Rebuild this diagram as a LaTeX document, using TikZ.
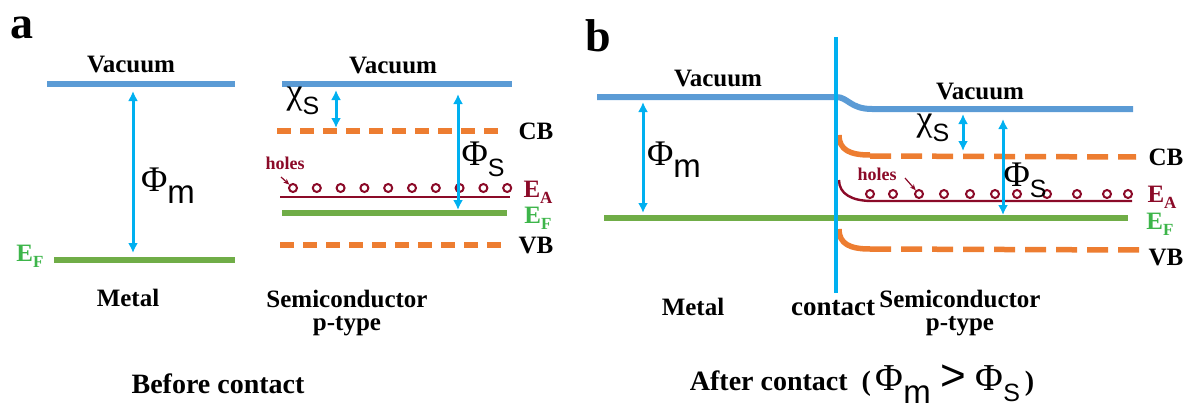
\documentclass[tikz,border=0pt]{standalone}
\usepackage{fontspec}
\setmainfont{Liberation Serif}
\newfontfamily\sansf{Liberation Sans}
\usetikzlibrary{arrows.meta}
\definecolor{vacblue}{HTML}{5B9BD5}
\definecolor{arrcyan}{HTML}{00B0F0}
\definecolor{bandorange}{HTML}{ED7D31}
\definecolor{fermigreen}{HTML}{70AD47}
\definecolor{efgreen}{HTML}{3DB54A}
\definecolor{holered}{HTML}{8B0A28}
\tikzset{
  vac/.style={vacblue, line width=6pt},
  ferm/.style={fermigreen, line width=6pt},
  band/.style={bandorange, line width=5.5pt},
  banddash/.style={bandorange, line width=5.5pt, dash pattern=on 14pt off 9pt},
  banddashb/.style={bandorange, line width=5.5pt, dash pattern=on 21pt off 10pt},
  accept/.style={holered, line width=2.4pt},
  gap/.style={arrcyan, line width=3pt, {Latex[length=10pt,width=10pt]}-{Latex[length=10pt,width=10pt]}},
  hole/.style={circle, draw=holered, line width=2pt, minimum size=8pt, inner sep=0pt},
  lbl/.style={font=\bfseries\fontsize{25}{27}\selectfont, inner sep=0pt},
  vaclbl/.style={font=\bfseries\fontsize{25}{27}\selectfont, inner sep=0pt},
  panel/.style={font=\bfseries\fontsize{46}{48}\selectfont, inner sep=0pt},
  biglbl/.style={font=\fontsize{36}{38}\selectfont, inner sep=0pt},
  holelbl/.style={font=\bfseries\fontsize{18}{20}\selectfont, text=holered, inner sep=0pt},
  ptr/.style={holered, line width=1.2pt, -{Stealth[length=6pt,width=5pt]}},
}
\newcommand{\Phisub}[1]{\textrm{Φ}\raisebox{-0.33em}{\sansf\fontsize{33}{35}\selectfont #1}}
\newcommand{\PhiS}{\textrm{Φ}\raisebox{-0.3em}{\sansf\fontsize{25}{27}\selectfont S}}
\newcommand{\ChiS}{\textrm{χ}\raisebox{-0.3em}{\sansf\fontsize{25}{27}\selectfont S}}
\newcommand{\Esub}[1]{E\raisebox{-0.25em}{\fontsize{17}{19}\selectfont #1}}
\begin{document}
\begin{tikzpicture}[x=1pt,y=-1pt]
\useasboundingbox (0,0) rectangle (1194,412);

% ===== panel a =====
\node[panel] (pa) at (22,28) {a};

% metal
\coordinate (mvacL) at (47,84);  \coordinate (mvacR) at (235,84);
\coordinate (mefL) at (54,260);  \coordinate (mefR) at (235,260);
\draw[vac] (mvacL) -- (mvacR);
\draw[ferm] (mefL) -- (mefR);
\node[vaclbl] (mvaclbl) at (131,65) {Vacuum};
\coordinate (phimT) at (133,91); \coordinate (phimB) at (133,253);
\draw[gap] (phimT) -- (phimB);
\node[biglbl] (phimlbl) at (168,186) {\Phisub{m}};
\node[lbl, text=efgreen] (mef) at (30,256) {\Esub{F}};
\node[lbl] (metala) at (128,298) {Metal};

% semiconductor
\coordinate (svacL) at (282,84);  \coordinate (svacR) at (512,84);
\draw[vac] (svacL) -- (svacR);
\node[vaclbl] (svaclbl) at (393,66) {Vacuum};
\draw[banddash] (277,131) -- (503,131);
\node[lbl] (cba) at (536,131) {CB};
\draw[accept] (280,197) -- (510,197);
\foreach \i in {0,...,9} \node[hole] (ha\i) at ({293+\i*23.8},188) {};
\node[holelbl] (holesa) at (285,163) {holes};
\coordinate (pa1) at (281,177);
\draw[ptr] (pa1) -- (ha0);
\node[lbl, text=holered] (eaa) at (538,192) {\Esub{A}};
\draw[ferm] (282,213) -- (507,213);
\node[lbl, text=efgreen] (efa) at (538,218) {\Esub{F}};
\draw[banddash] (280,245) -- (503,245);
\node[lbl] (vba) at (536,246) {VB};
\coordinate (chiT) at (336,90); \coordinate (chiB) at (336,128);
\draw[gap] (chiT) -- (chiB);
\node[biglbl] (chia) at (303,101) {\ChiS};
\coordinate (phisT) at (458,94); \coordinate (phisB) at (458,210);
\draw[gap] (phisT) -- (phisB);
\node[biglbl] (phisa) at (483,159) {\PhiS};
\node[lbl, align=center] (semia) at (347,313) {Semiconductor\\[-4pt]p-type};
\node[lbl, font=\bfseries\fontsize{28}{30}\selectfont] (before) at (218,384) {Before contact};

% ===== panel b =====
\node[panel] (pb) at (598,36) {b};
\coordinate (ctT) at (836,37); \coordinate (ctB) at (836,293);

% vacuum
\draw[vac] (597,97) -- (836,97) .. controls (848,97) and (850,109) .. (872,109) -- (1133,109);
\node[vaclbl] (bvac1) at (718,79) {Vacuum};
\node[vaclbl] (bvac2) at (980,92) {Vacuum};
% Fermi
\draw[ferm] (604,218) -- (1128,218);
\node[lbl, text=efgreen] (efb) at (1160,224) {\Esub{F}};
% CB
\draw[band] (839,135) .. controls (839,150) and (850,155) .. (870,155);
\draw[banddashb] (870,156) -- (1136,157);
\node[lbl] (cbb) at (1166,157) {CB};
% EA
\draw[accept] (839,180) .. controls (839,194) and (852,201) .. (872,201) -- (1132,201);
\foreach \x [count=\k] in {870,893,919,944,970,995,1017,1047,1077,1107,1128}
  \node[hole] (hb\k) at (\x,194) {};
\node[holelbl] (holesb) at (877,174) {holes};
\coordinate (pb1) at (905,178);
\draw[ptr] (pb1) -- (hb3);
\node[lbl, text=holered] (eab) at (1162,197) {\Esub{A}};
% VB
\draw[band] (839,229) .. controls (839,244) and (850,249) .. (870,249);
\draw[banddashb] (870,249) -- (1140,250);
\node[lbl] (vbb) at (1166,258) {VB};
% contact line (on top)
\draw[arrcyan, line width=4pt] (ctT) -- (ctB);
% arrows
\coordinate (bphimT) at (643,102); \coordinate (bphimB) at (643,213);
\draw[gap] (bphimT) -- (bphimB);
\node[biglbl] (bphim) at (674,160) {\Phisub{m}};
\coordinate (bchiT) at (963,114); \coordinate (bchiB) at (963,151);
\draw[gap] (bchiT) -- (bchiB);
\node[biglbl] (bchi) at (933,128) {\ChiS};
\coordinate (bphisT) at (1003,119); \coordinate (bphisB) at (1003,215);
\draw[gap] (bphisT) -- (bphisB);
\node[biglbl] (bphis) at (1025,180) {\PhiS};
% labels
\node[lbl] (metalb) at (693,307) {Metal};
\node[lbl, font=\bfseries\fontsize{27}{29}\selectfont] (contact) at (833,308) {contact};
\node[lbl, align=center] (semib) at (960,313) {Semiconductor\\[-4pt]p-type};
\node[inner sep=0pt] (after) at (862,384) {\bfseries\fontsize{28}{30}\selectfont After contact\ \ (\,{\mdseries\fontsize{38}{40}\selectfont\Phisub{m} {\sansf\fontsize{44}{46}\selectfont >} \PhiS}\,)};
\end{tikzpicture}
\end{document}
